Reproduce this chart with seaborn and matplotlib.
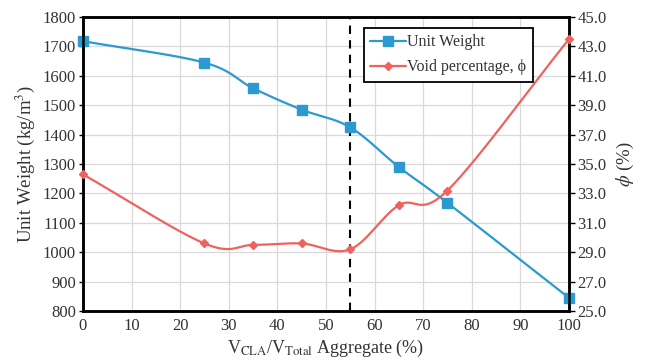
import numpy as np
import pandas as pd
import matplotlib
matplotlib.use("Agg")
import matplotlib.pyplot as plt
import seaborn as sns

# data
cla = [0, 25, 35, 45, 55, 65, 75, 100]
unit_weight = [1718, 1645, 1558, 1485, 1425, 1290, 1168, 845]
void_pct = [34.3, 29.6, 29.5, 29.6, 29.2, 32.2, 33.2, 43.5]

blue = "#2b9ad0"
red = "#f0625e"

sns.set_theme(style="whitegrid")
plt.rcParams["font.family"] = ["Liberation Serif", "DejaVu Serif"]
plt.rcParams["mathtext.fontset"] = "stix"


def smooth(x, y, n=30):
    # catmull-rom style smoothing, like excel "smoothed line"
    x = np.asarray(x, float)
    y = np.asarray(y, float)
    px = np.concatenate([[2 * x[0] - x[1]], x, [2 * x[-1] - x[-2]]])
    py = np.concatenate([[2 * y[0] - y[1]], y, [2 * y[-1] - y[-2]]])
    xs, ys = [], []
    t = np.linspace(0, 1, n)
    for i in range(1, len(px) - 2):
        for p, out in ((px, xs), (py, ys)):
            p0, p1, p2, p3 = p[i - 1], p[i], p[i + 1], p[i + 2]
            out.extend(0.5 * ((2 * p1) + (-p0 + p2) * t
                              + (2 * p0 - 5 * p1 + 4 * p2 - p3) * t ** 2
                              + (-p0 + 3 * p1 - 3 * p2 + p3) * t ** 3))
    return pd.DataFrame({"x": xs, "y": ys})


fig, ax = plt.subplots(figsize=(6.48, 3.63), dpi=100)
fig.subplots_adjust(left=0.128, right=0.878, bottom=0.143, top=0.953)
ax2 = ax.twinx()

uw = smooth(cla, unit_weight)
vp = smooth(cla, void_pct)
sns.lineplot(data=uw, x="x", y="y", ax=ax, color=blue, lw=1.6, sort=False,
             estimator=None)
sns.lineplot(data=vp, x="x", y="y", ax=ax2, color=red, lw=1.6, sort=False,
             estimator=None)
ax.plot(cla, unit_weight, ls="none", marker="s", ms=6.5, color=blue,
        clip_on=False, zorder=5)
ax2.plot(cla, void_pct, ls="none", marker="D", ms=4.5, color=red,
         clip_on=False, zorder=5)

ax.axvline(55, color="black", ls=(0, (4, 3)), lw=1.5)

ax.set_xlim(0, 100)
ax.set_ylim(800, 1800)
ax2.set_ylim(25, 45)
ax.set_xticks(range(0, 101, 10))
ax.set_yticks(range(800, 1801, 100))
ax2.set_yticks(np.arange(25, 45.1, 2))
ax2.set_yticklabels([f"{v:.1f}" for v in np.arange(25, 45.1, 2)])

ax.grid(True, color="#d9d9d9", lw=0.9)
ax2.grid(False)
for a in (ax, ax2):
    for s in a.spines.values():
        s.set_color("black")
        s.set_linewidth(1.8)
    a.tick_params(labelsize=12, colors="#333333", length=3, width=1,
                  direction="out")
    for t in a.get_xticklabels() + a.get_yticklabels():
        t.set_color("#333333")
ax.tick_params(axis="x", length=0, pad=5)
ax.tick_params(axis="y", left=True, length=3, color="black", pad=2)
ax2.tick_params(axis="y", right=True, length=4, color="black", pad=2)

ax.set_xlabel(r"V$_{\mathrm{CLA}}$/V$_{\mathrm{Total}}$ Aggregate (%)",
              fontsize=13, color="#333333", labelpad=3)
ax.set_ylabel(r"Unit Weight (kg/m$^3$)", fontsize=13.5, color="#333333",
              labelpad=4)
ax2.set_ylabel(r"$\phi$ (%)", fontsize=13.5, color="#333333", labelpad=6)

h1 = plt.Line2D([], [], color=blue, marker="s", ms=6.5, lw=1.6)
h2 = plt.Line2D([], [], color=red, marker="D", ms=4.5, lw=1.6)
leg = ax2.legend([h1, h2], ["Unit Weight", "Void percentage, \u03d5"],
                 loc="upper left", bbox_to_anchor=(0.562, 0.99),
                 fontsize=11.5, frameon=True, fancybox=False, framealpha=1,
                 handlelength=2.2, handletextpad=0.1, borderpad=0.4,
                 labelspacing=0.55)
leg.get_frame().set_edgecolor("black")
leg.get_frame().set_linewidth(1.3)
for t in leg.get_texts():
    t.set_color("#333333")

fig.savefig("out.png", dpi=100)
